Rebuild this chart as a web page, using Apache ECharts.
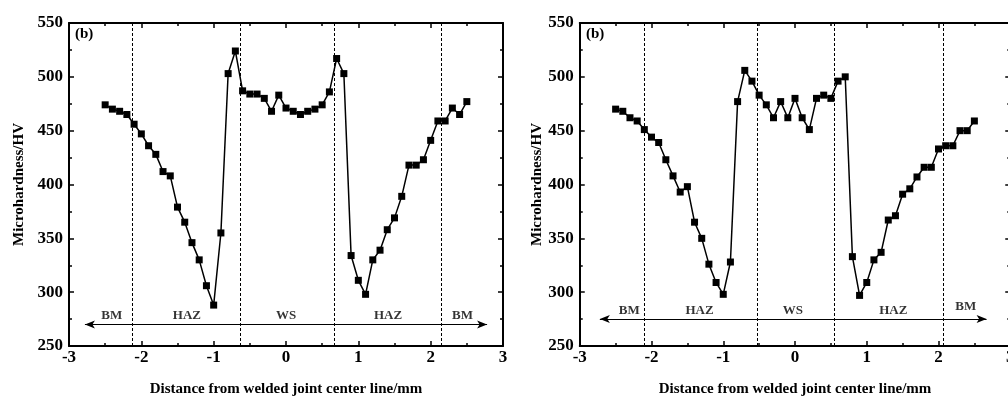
<!DOCTYPE html>
<html>
<head>
<meta charset="utf-8">
<script src="https://cdn.jsdelivr.net/npm/echarts@6/dist/echarts.min.js"></script>
<style>html,body{margin:0;padding:0;background:#fff}#c{width:1008px;height:400px}</style>
</head>
<body>
<div id="c"></div>
<script>
// ---------- data ----------
const xLeft = [-2.5,-2.4,-2.3,-2.2,-2.1,-2.0,-1.9,-1.8,-1.7,-1.6,-1.5,-1.4,-1.3,-1.2,-1.1,-1.0,-0.9,-0.8,-0.7,-0.6,-0.5,-0.4,-0.3,-0.2,-0.1,0.0,0.1,0.2,0.3,0.4,0.5,0.6,0.7,0.8,0.9,1.0,1.1,1.2,1.3,1.4,1.5,1.6,1.7,1.8,1.9,2.0,2.1,2.2,2.3,2.4,2.5];
const hvLeft = [474,470,468,465,456,447,436,428,412,408,379,365,346,330,306,288,355,503,524,487,484,484,480,468,483,471,468,465,468,470,474,486,517,503,334,311,298,330,339,358,369,389,418,418,423,441,459,459,471,465,477];
const xRight = [-2.5,-2.4,-2.3,-2.2,-2.1,-2.0,-1.9,-1.8,-1.7,-1.6,-1.5,-1.4,-1.3,-1.2,-1.1,-1.0,-0.9,-0.8,-0.7,-0.6,-0.5,-0.4,-0.3,-0.2,-0.1,0.0,0.1,0.2,0.3,0.4,0.5,0.6,0.7,0.8,0.9,1.0,1.1,1.2,1.3,1.4,1.5,1.6,1.7,1.8,1.9,2.0,2.1,2.2,2.3,2.4,2.5];
const hvRight = [470,468,462,459,451,444,439,423,408,393,398,365,350,326,309,298,328,477,506,496,483,474,462,477,462,480,462,451,480,483,480,496,500,333,297,309,330,337,367,371,391,396,407,416,416,433,436,436,450,450,459];
const boundsLeft = [-2.13,-0.63,0.67,2.14];
const boundsRight = [-2.10,-0.53,0.55,2.06];
const zoneNames = ['BM','HAZ','WS','HAZ','BM'];
const zoneXLeft = [-2.41,-1.37,0.0,1.41,2.44];
const zoneYLeft = [278,278,278,278,278];
const zoneXRight = [-2.31,-1.33,-0.03,1.37,2.38];
const zoneYRight = [283,283,283,283,286.5];
const arrowLeft = [[-2.78,270],[2.78,270]];
const arrowRight = [[-2.72,275],[2.67,275]];
const xTicks = [-3,-2,-1,0,1,2,3];
const yTicks = [250,300,350,400,450,500,550];
const panelTag = '(b)';
const xTitle = 'Distance from welded joint center line/mm';
const yTitle = 'Microhardness/HV';

// ---------- styling ----------
const FONT = '"Liberation Serif","Times New Roman",serif';
const lineAx = {show:true, lineStyle:{color:'#000', width:2}, onZero:false};
const tick = {show:true, inside:true, length:5, lineStyle:{color:'#000', width:1.5}};
const minor = {show:true, splitNumber:2, length:3, lineStyle:{color:'#000', width:1.5}};
const labStyle = {color:'#000', fontFamily:FONT, fontWeight:'bold', fontSize:17};

function xAx(grid, pos, showLab){
  return {type:'value', gridIndex:grid, position:pos, min:xTicks[0], max:xTicks[xTicks.length-1], interval:1,
    axisLine:lineAx, axisTick:tick, minorTick:minor, splitLine:{show:false}, minorSplitLine:{show:false},
    axisLabel: Object.assign({show:showLab, margin:3}, labStyle),
    name: showLab ? xTitle : '', nameLocation:'middle', nameGap:36,
    nameTextStyle:{color:'#000', fontFamily:FONT, fontWeight:'bold', fontSize:15}};
}
function yAx(grid, pos, showLab, gap){
  return {type:'value', gridIndex:grid, position:pos, min:yTicks[0], max:yTicks[yTicks.length-1], interval:50,
    axisLine:lineAx, axisTick:tick, minorTick:minor, splitLine:{show:false}, minorSplitLine:{show:false},
    axisLabel: Object.assign({show:showLab, margin:6}, labStyle),
    name: showLab ? yTitle : '', nameLocation:'middle', nameGap:gap || 42, nameRotate:90,
    nameTextStyle:{color:'#000', fontFamily:FONT, fontWeight:'bold', fontSize:15}};
}

function panelSeries(xi, yi, xs, ys, bounds, zx, zy, arrow){
  const pts = xs.map((x,i)=>[x, ys[i]]);
  return [
    {type:'line', xAxisIndex:xi, yAxisIndex:yi, data:pts, symbol:'rect', symbolSize:7,
     itemStyle:{color:'#000'}, lineStyle:{color:'#000', width:1.5}, animation:false, z:5,
     markLine:{silent:true, symbol:'none', label:{show:false}, animation:false,
       lineStyle:{color:'#000', type:[3,2], width:1},
       data: bounds.map(b=>({xAxis:b}))}},
    {type:'line', xAxisIndex:xi, yAxisIndex:yi, data:[], symbol:'none', animation:false,
     markLine:{silent:true, symbol:['arrow','arrow'], symbolSize:[6,10], label:{show:false}, animation:false,
       lineStyle:{color:'#000', type:'solid', width:1.2},
       data:[[{coord:arrow[0]},{coord:arrow[1]}]]}},
    {type:'scatter', xAxisIndex:xi, yAxisIndex:yi, symbolSize:0, animation:false,
     data: zoneNames.map((n,i)=>({value:[zx[i], zy[i]], name:n})),
     label:{show:true, position:'inside', formatter:p=>p.name, color:'#000', fontFamily:FONT, fontWeight:'bold', fontSize:13}}
  ];
}

const chart = echarts.init(document.getElementById('c'), null, {renderer:'canvas'});
chart.setOption({
  animation:false,
  backgroundColor:'#fff',
  grid:[
    {left:69, top:23, width:434, height:323, containLabel:false, outerBoundsMode:'none'},
    {left:579.75, top:23, width:430.5, height:323, containLabel:false, outerBoundsMode:'none'}
  ],
  xAxis:[xAx(0,'bottom',true), xAx(0,'top',false), xAx(1,'bottom',true), xAx(1,'top',false)],
  yAxis:[yAx(0,'left',true,42), yAx(0,'right',false), yAx(1,'left',true,34), yAx(1,'right',false)],
  graphic:[
    {type:'text', left:75, top:27, style:{text:panelTag, fill:'#000', font:'bold 15px '+FONT}},
    {type:'text', left:586, top:27, style:{text:panelTag, fill:'#000', font:'bold 15px '+FONT}}
  ],
  series:[].concat(
    panelSeries(0,0,xLeft,hvLeft,boundsLeft,zoneXLeft,zoneYLeft,arrowLeft),
    panelSeries(2,2,xRight,hvRight,boundsRight,zoneXRight,zoneYRight,arrowRight)
  )
});
</script>
</body>
</html>
